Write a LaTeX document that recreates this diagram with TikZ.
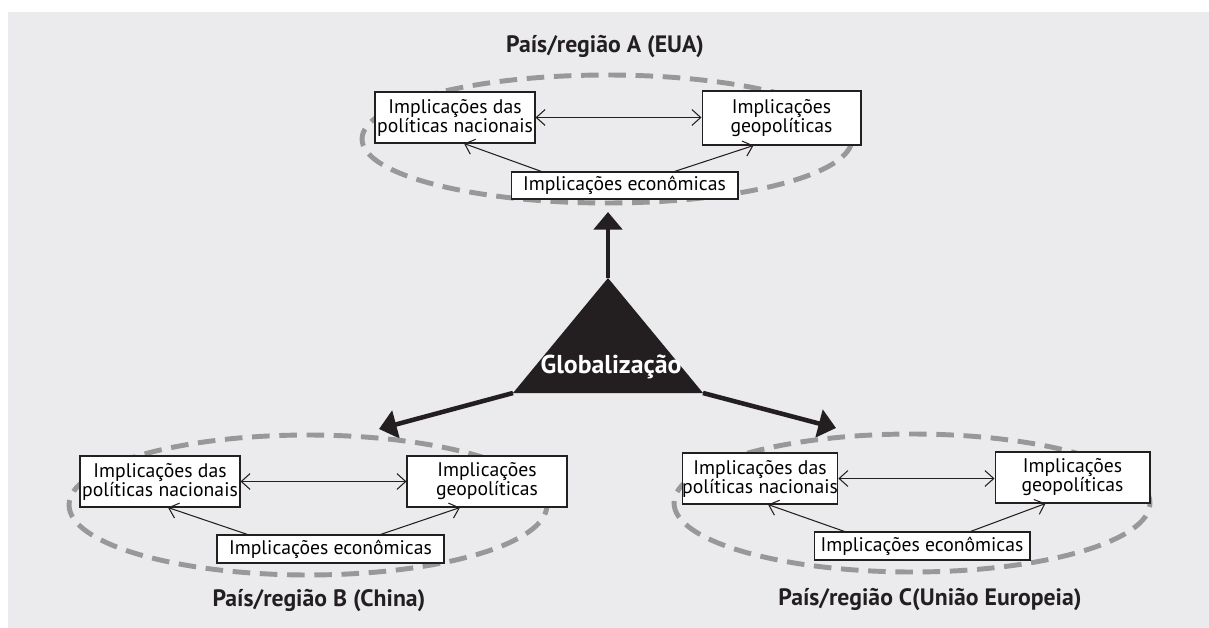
\documentclass[tikz,border=0pt]{standalone}
\usepackage{fontspec}
\setmainfont{PT Sans}
\usetikzlibrary{arrows.meta,shapes.geometric}

\definecolor{bggray}{RGB}{235,235,237}
\definecolor{ringgray}{RGB}{152,152,152}
\definecolor{inkblack}{RGB}{35,31,32}

\tikzset{
	implbox/.style={rectangle,draw=inkblack,fill=white,line width=0.6pt,align=center,inner sep=0pt,
		font=\fontsize{11.2}{10.8}\selectfont},
	regionring/.style={ellipse,draw=ringgray,line width=2.8pt,dash pattern=on 10pt off 5.5pt},
	regiontitle/.style={font=\fontsize{13.5}{15}\selectfont\bfseries,text=inkblack},
	linkboth/.style={draw=inkblack,line width=0.6pt,{Straight Barb[length=5pt,width=9pt]}-{Straight Barb[length=5pt,width=9pt]}},
	linkto/.style={draw=inkblack,line width=0.6pt,-{Straight Barb[length=5pt,width=9pt]}},
	globarrow/.style={draw=inkblack,line width=2.6pt,-{Triangle[length=10pt,width=16pt]}}
}

\begin{document}
\begin{tikzpicture}[x=0.02cm,y=-0.02cm]
	\useasboundingbox (0,0) rectangle (1209,628);
	\fill[bggray] (8,12) rectangle (1209,628);

	% centre: globalizacao
	\path (608,278) coordinate (apex);
	\path (513,393) coordinate (baseleft);
	\path (703,393) coordinate (baseright);
	\path (608,212) coordinate (tipA);
	\path (379,429) coordinate (tipB);
	\path (836,428) coordinate (tipC);
	\fill[inkblack] (apex) -- (baseleft) -- (baseright) -- cycle;
	\node (glob) at (611,367) [font=\fontsize{14.7}{16}\selectfont\bfseries,text=white] {Globalização};
	\draw[globarrow] (apex) -- (tipA);
	\draw[globarrow] (baseleft) -- (tipB);
	\draw[globarrow] (baseright) -- (tipC);

	% regiao A
	\node (titleA) at (605,47) [regiontitle] {País/região A (EUA)};
	\node (ringA) at (607,139) [regionring,minimum width=9.8cm,minimum height=2.56cm] {};
	\node (polA) at (455,117.5) [implbox,minimum width=3.2cm,minimum height=1.02cm] {Implicações das\\políticas nacionais};
	\node (geoA) at (781.5,118) [implbox,minimum width=3.18cm,minimum height=1.08cm] {Implicações\\geopolíticas};
	\node (econA) at (624.5,185.5) [implbox,minimum width=4.54cm,minimum height=0.54cm] {Implicações econômicas};
	\draw[linkboth] (polA.east) -- (polA.east -| geoA.west);
	\draw[linkto] (econA.north west) ++(31,0) -- ([xshift=0.18cm]polA.south);
	\draw[linkto] (econA.north east) ++(-64,0) -- ([xshift=-0.56cm]geoA.south);

	% regiao B
	\node (titleB) at (319,601) [regiontitle] {País/região B (China)};
	\node (ringB) at (308,505) [regionring,minimum width=9.56cm,minimum height=2.8cm] {};
	\node (polB) at (160,481.5) [implbox,minimum width=3.2cm,minimum height=1.02cm] {Implicações das\\políticas nacionais};
	\node (geoB) at (487,481.5) [implbox,minimum width=3.2cm,minimum height=1.02cm] {Implicações\\geopolíticas};
	\node (econB) at (330.5,549) [implbox,minimum width=4.54cm,minimum height=0.56cm] {Implicações econômicas};
	\draw[linkboth] (polB.east) -- (polB.east -| geoB.west);
	\draw[linkto] (econB.north west) ++(31,0) -- ([xshift=0.16cm]polB.south);
	\draw[linkto] (econB.north east) ++(-64,0) -- ([xshift=-0.54cm]geoB.south);

	% regiao C
	\node (titleC) at (930,600) [regiontitle] {País/região C(União Europeia)};
	\node (ringC) at (912,503) [regionring,minimum width=9.52cm,minimum height=2.76cm] {};
	\node (polC) at (760,478.5) [implbox,minimum width=3.04cm,minimum height=1.02cm] {Implicações das\\políticas nacionais};
	\node (geoC) at (1072.5,477.5) [implbox,minimum width=3.1cm,minimum height=1.02cm] {Implicações\\geopolíticas};
	\node (econC) at (922,546) [implbox,minimum width=4.32cm,minimum height=0.56cm] {Implicações econômicas};
	\draw[linkboth] (polC.east) -- (polC.east -| geoC.west);
	\draw[linkto] (econC.north west) ++(31,0) -- ([xshift=0.16cm]polC.south);
	\draw[linkto] (econC.north east) ++(-60,0) -- ([xshift=-0.54cm]geoC.south);
\end{tikzpicture}
\end{document}
